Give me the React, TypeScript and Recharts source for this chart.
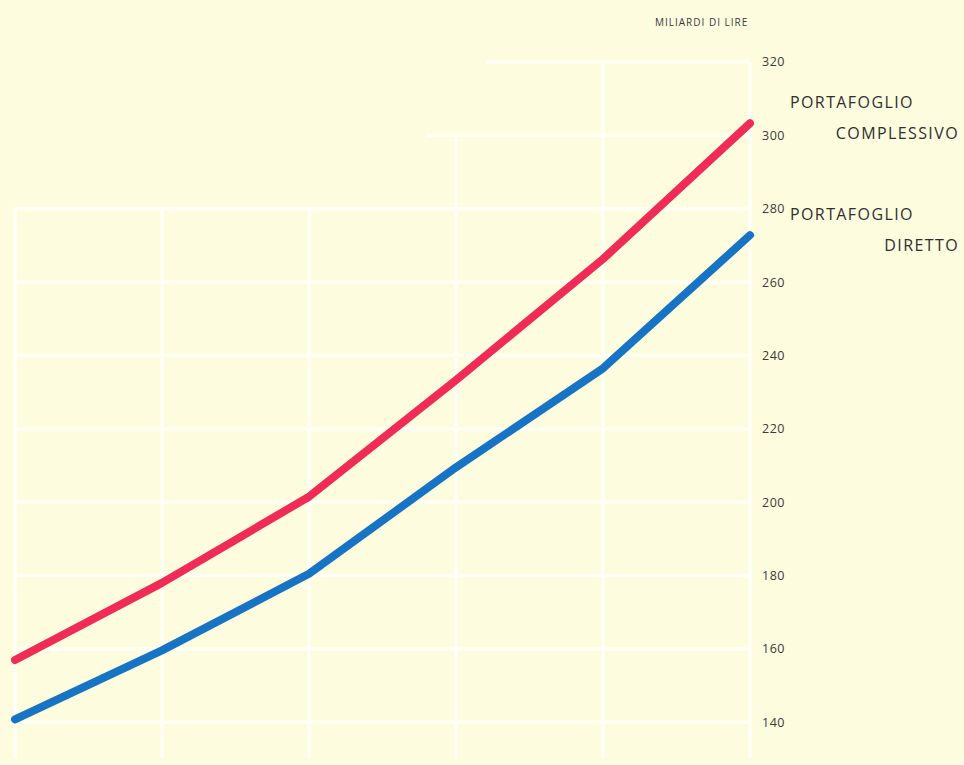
import { LineChart, Line, XAxis, YAxis, ReferenceLine } from 'recharts'

// periodi (asse orizzontale senza etichette nel disegno originale)
const periods = [0, 1, 2, 3, 4, 5]
const complessivo = [157, 178, 201.5, 233.3, 266.3, 303.3]
const diretto = [140.8, 159.6, 180.5, 209.5, 236.5, 272.8]
const yTicks = [140, 160, 180, 200, 220, 240, 260, 280, 300, 320]

// griglia a gradini: [valore, da periodo, a periodo]
const hLines: [number, number, number][] = [
  [140, 0, 5], [160, 0, 5], [180, 0, 5], [200, 0, 5], [220, 0, 5],
  [240, 0, 5], [260, 0, 5], [280, 0, 5], [300, 2.8, 5], [320, 3.2, 5],
]
// [periodo, valore in alto]
const vLines: [number, number][] = [[0, 280], [1, 280], [2, 280], [3, 300], [4, 320], [5, 320]]

const data = periods.map((p, i) => ({ p, complessivo: complessivo[i], diretto: diretto[i] }))

const BG = '#fdfcdf'
const GRID = '#fffff6'
const FONT = '"Open Sans", "DejaVu Sans", sans-serif'

export default function App() {
  return (
    <div style={{ position: 'fixed', left: 0, top: 0, width: 964, height: 765, background: BG, overflow: 'hidden', fontFamily: FONT }}>
      <LineChart width={964} height={765} data={data} margin={{ top: 62, right: 164, left: 15, bottom: 6 }}>
        <XAxis dataKey="p" type="number" domain={[0, 5]} hide />
        <YAxis
          orientation="right"
          domain={[130, 320]}
          ticks={yTicks}
          width={50}
          axisLine={false}
          tickLine={false}
          tickMargin={6}
          tick={{ fontSize: 12.5, fill: '#3a3a3a', fontFamily: FONT, letterSpacing: 0.5 }}
          allowDataOverflow
        />
        {hLines.map(([v, a, b]) => (
          <ReferenceLine key={'h' + v} segment={[{ x: a, y: v }, { x: b, y: v }]} stroke={GRID} strokeWidth={3.5} ifOverflow="visible" />
        ))}
        {vLines.map(([p, top]) => (
          <ReferenceLine key={'v' + p} segment={[{ x: p, y: 130 }, { x: p, y: top }]} stroke={GRID} strokeWidth={3.5} ifOverflow="visible" />
        ))}
        <Line type="linear" dataKey="complessivo" stroke="#ef2b56" strokeWidth={8} strokeLinecap="round" strokeLinejoin="round" dot={false} isAnimationActive={false} />
        <Line type="linear" dataKey="diretto" stroke="#1774c4" strokeWidth={8} strokeLinecap="round" strokeLinejoin="round" dot={false} isAnimationActive={false} />
      </LineChart>
      <div style={{ position: 'absolute', left: 655, top: 15, fontSize: 10, letterSpacing: 1, color: '#3a3a3a' }}>MILIARDI DI LIRE</div>
      <div style={{ position: 'absolute', left: 790, top: 91, fontSize: 16, letterSpacing: 1.4, color: '#2f2f2f' }}>PORTAFOGLIO</div>
      <div style={{ position: 'absolute', right: 5, top: 122, fontSize: 16, letterSpacing: 1.4, color: '#2f2f2f' }}>COMPLESSIVO</div>
      <div style={{ position: 'absolute', left: 790, top: 203, fontSize: 16, letterSpacing: 1.4, color: '#2f2f2f' }}>PORTAFOGLIO</div>
      <div style={{ position: 'absolute', right: 5, top: 234, fontSize: 16, letterSpacing: 1.4, color: '#2f2f2f' }}>DIRETTO</div>
    </div>
  )
}
